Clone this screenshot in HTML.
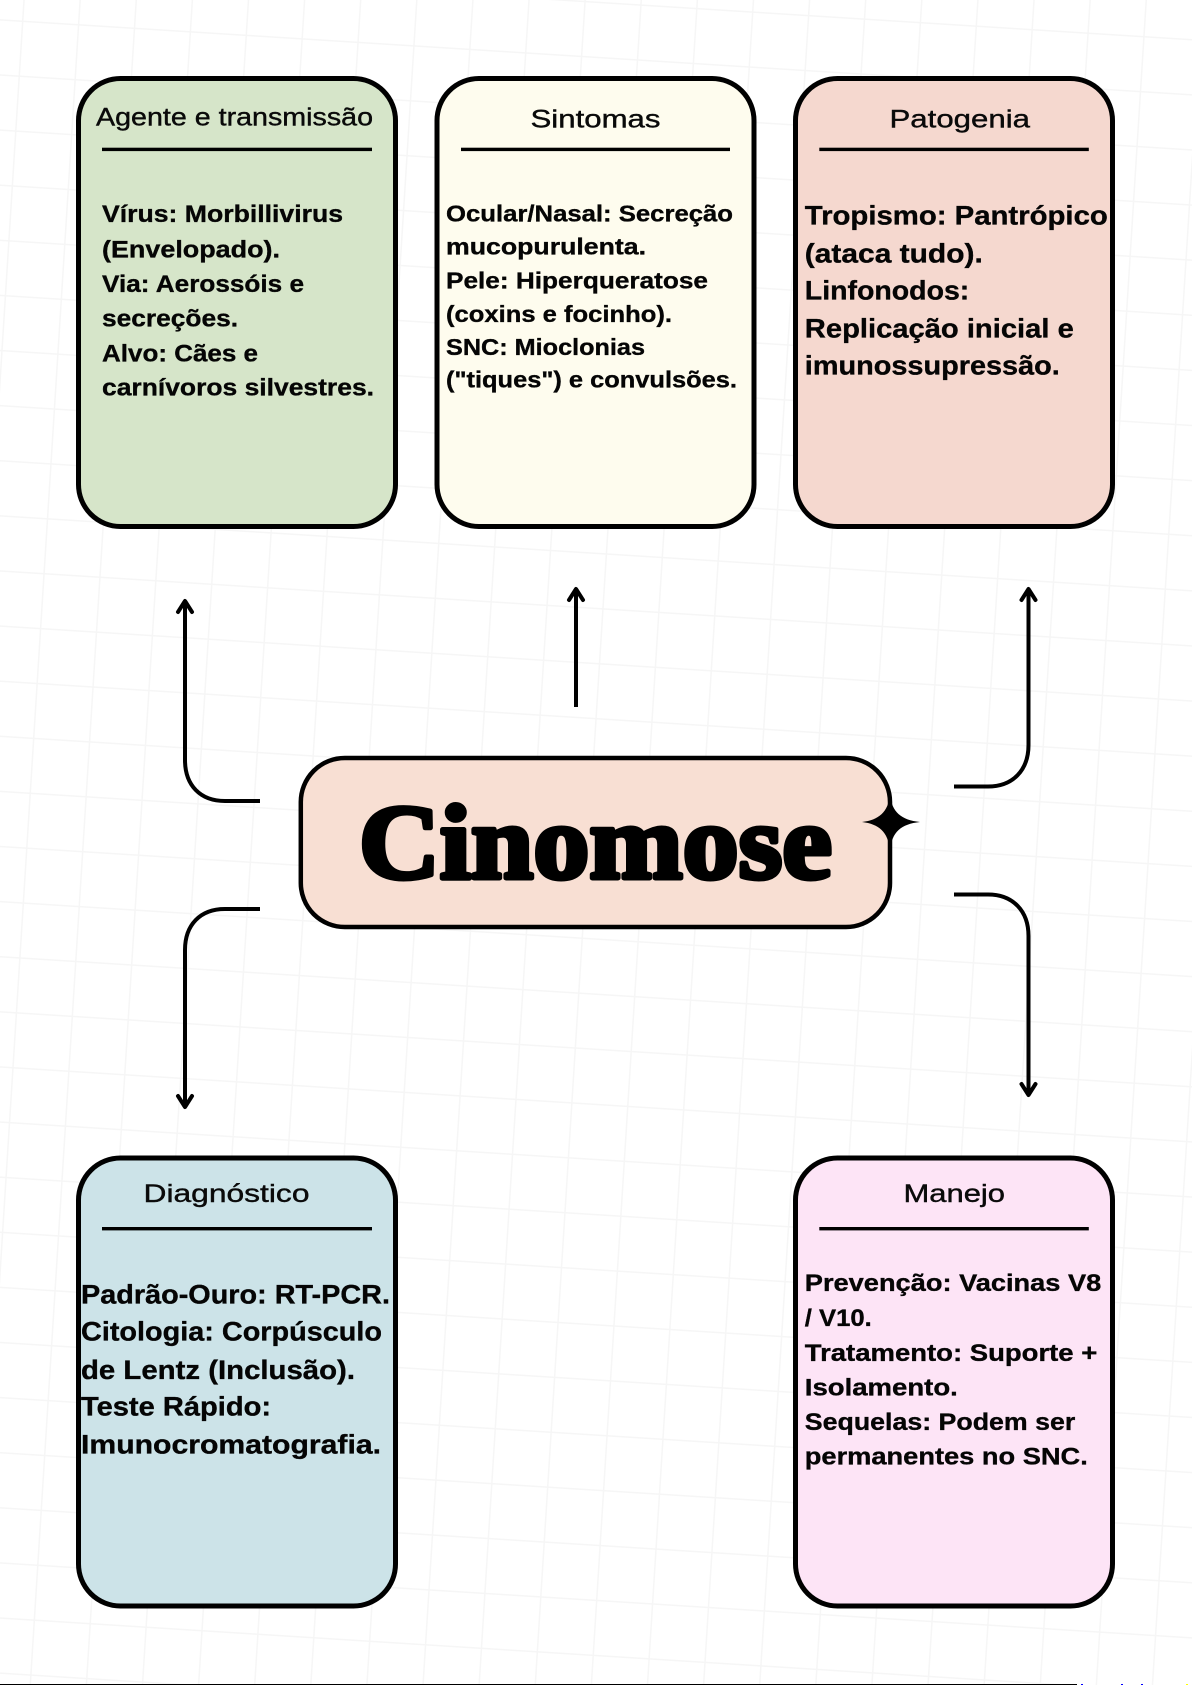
<!DOCTYPE html>
<html lang="pt">
<head>
<meta charset="utf-8">
<title>Cinomose</title>
<style>
html,body{margin:0;padding:0;background:#fff;width:1192px;height:1685px;overflow:hidden}
svg{display:block;width:1192px;height:1685px;overflow:hidden}
.t{font-family:"Liberation Sans",sans-serif;font-size:25px;fill:#0a0a0a;stroke:#0a0a0a;stroke-width:.4px}
.b{font-family:"Liberation Sans",sans-serif;font-weight:700;fill:#050505;stroke:#050505;stroke-width:.35px}
.s24{font-size:24.5px}.s23{font-size:23.5px}.s26{font-size:26.5px}
.a{fill:none;stroke:#000;stroke-width:4;stroke-linejoin:round;stroke-linecap:round}
</style>
</head>
<body>
<svg xmlns="http://www.w3.org/2000/svg" width="1192" height="1685" viewBox="0 0 1192 1685">
<defs>
<pattern id="g" width="56" height="55" patternUnits="userSpaceOnUse" patternTransform="translate(22 20.5) rotate(3.6)">
<rect x="0" y="0" width="56" height="1.5" fill="#f6f6f6"/>
<rect x="0" y="0" width="1.5" height="55" fill="#f6f6f6"/>
</pattern>
</defs>
<rect width="1192" height="1685" fill="#fff"/>
<rect width="1192" height="1685" fill="url(#g)"/>

<!-- Cards -->
<rect x="78.5" y="78.5" width="317" height="448" rx="42" fill="#d6e5c9" stroke="#000" stroke-width="5"/>
<rect x="437" y="78.5" width="317" height="448" rx="42" fill="#fefcee" stroke="#000" stroke-width="5"/>
<rect x="795.5" y="78.5" width="317" height="448" rx="42" fill="#f5d8cf" stroke="#000" stroke-width="5"/>
<rect x="78.5" y="1158" width="317" height="448" rx="42" fill="#cce3e8" stroke="#000" stroke-width="5"/>
<rect x="795.5" y="1158" width="317" height="448" rx="42" fill="#fde4f6" stroke="#000" stroke-width="5"/>

<!-- Rules -->
<rect x="102" y="147.7" width="270" height="3.4" fill="#000"/>
<rect x="461" y="147.7" width="269" height="3.4" fill="#000"/>
<rect x="819.3" y="147.7" width="269.5" height="3.4" fill="#000"/>
<rect x="102" y="1227" width="270" height="3.4" fill="#000"/>
<rect x="819.3" y="1227" width="269.5" height="3.4" fill="#000"/>

<!-- Titles -->
<text class="t" x="96" y="125.7" textLength="277" lengthAdjust="spacingAndGlyphs">Agente e transmissão</text>
<text class="t" x="530.5" y="127.5" textLength="130" lengthAdjust="spacingAndGlyphs">Sintomas</text>
<text class="t" x="889.5" y="127.5" textLength="140.5" lengthAdjust="spacingAndGlyphs">Patogenia</text>
<text class="t" x="143.5" y="1202" textLength="166" lengthAdjust="spacingAndGlyphs">Diagnóstico</text>
<text class="t" x="903.5" y="1202" textLength="101.5" lengthAdjust="spacingAndGlyphs">Manejo</text>

<!-- Card 1 -->
<g class="b s24">
<text x="102" y="222" textLength="241" lengthAdjust="spacingAndGlyphs">Vírus: Morbillivirus</text>
<text x="102" y="257.5" textLength="178" lengthAdjust="spacingAndGlyphs">(Envelopado).</text>
<text x="102" y="292" textLength="202" lengthAdjust="spacingAndGlyphs">Via: Aerossóis e</text>
<text x="102" y="326.5" textLength="136" lengthAdjust="spacingAndGlyphs">secreções.</text>
<text x="102" y="361.5" textLength="156" lengthAdjust="spacingAndGlyphs">Alvo: Cães e</text>
<text x="102" y="395.7" textLength="272" lengthAdjust="spacingAndGlyphs">carnívoros silvestres.</text>
</g>

<!-- Card 2 -->
<g class="b s23">
<text x="446" y="221.4" textLength="287" lengthAdjust="spacingAndGlyphs">Ocular/Nasal: Secreção</text>
<text x="446" y="254.3" textLength="200" lengthAdjust="spacingAndGlyphs">mucopurulenta.</text>
<text x="446" y="288.6" textLength="262" lengthAdjust="spacingAndGlyphs">Pele: Hiperqueratose</text>
<text x="446" y="322" textLength="226" lengthAdjust="spacingAndGlyphs">(coxins e focinho).</text>
<text x="446" y="355" textLength="199" lengthAdjust="spacingAndGlyphs">SNC: Mioclonias</text>
<text x="446" y="387.5" textLength="291" lengthAdjust="spacingAndGlyphs">("tiques") e convulsões.</text>
</g>

<!-- Card 3 -->
<g class="b s26">
<text x="804.8" y="224.3" textLength="303" lengthAdjust="spacingAndGlyphs">Tropismo: Pantrópico</text>
<text x="804.8" y="262.5" textLength="178" lengthAdjust="spacingAndGlyphs">(ataca tudo).</text>
<text x="804.8" y="299.3" textLength="164.5" lengthAdjust="spacingAndGlyphs">Linfonodos:</text>
<text x="804.8" y="337.5" textLength="269" lengthAdjust="spacingAndGlyphs">Replicação inicial e</text>
<text x="804.8" y="374.3" textLength="255" lengthAdjust="spacingAndGlyphs">imunossupressão.</text>
</g>

<!-- Card 4 -->
<g class="b s26">
<text x="81" y="1303.5" textLength="309" lengthAdjust="spacingAndGlyphs">Padrão-Ouro: RT-PCR.</text>
<text x="81" y="1340.6" textLength="301" lengthAdjust="spacingAndGlyphs">Citologia: Corpúsculo</text>
<text x="81" y="1378.9" textLength="274" lengthAdjust="spacingAndGlyphs">de Lentz (Inclusão).</text>
<text x="81" y="1415.7" textLength="190" lengthAdjust="spacingAndGlyphs">Teste Rápido:</text>
<text x="81" y="1453.5" textLength="300" lengthAdjust="spacingAndGlyphs">Imunocromatografia.</text>
</g>

<!-- Card 5 -->
<g class="b s24">
<text x="804.8" y="1291" textLength="296.5" lengthAdjust="spacingAndGlyphs">Prevenção: Vacinas V8</text>
<text x="804.8" y="1325.8" textLength="67" lengthAdjust="spacingAndGlyphs">/ V10.</text>
<text x="804.8" y="1361" textLength="292.5" lengthAdjust="spacingAndGlyphs">Tratamento: Suporte +</text>
<text x="804.8" y="1395.5" textLength="153" lengthAdjust="spacingAndGlyphs">Isolamento.</text>
<text x="804.8" y="1430" textLength="270.5" lengthAdjust="spacingAndGlyphs">Sequelas: Podem ser</text>
<text x="804.8" y="1464.5" textLength="283" lengthAdjust="spacingAndGlyphs">permanentes no SNC.</text>
</g>

<!-- Central box -->
<rect x="300.8" y="758" width="589.2" height="169" rx="44" fill="#f8dfd3" stroke="#000" stroke-width="4.5"/>
<text x="359" y="878" font-family="'Liberation Serif',serif" font-weight="700" font-size="106" fill="#000" stroke="#000" stroke-width="5" stroke-linejoin="round" textLength="473" lengthAdjust="spacingAndGlyphs">Cinomose</text>
<path d="M890 795 C892 812 901 820 920 822 C901 824 892 832 890 850 C888 832 879 824 862 822 C879 820 888 812 890 795Z" fill="#000"/>

<!-- Connectors -->
<g class="a">
<path stroke-linecap="butt" d="M260 801H225C200 801 185 785 185 760V602"/>
<path d="M178 612L185 601L192 612"/>
<path stroke-linecap="butt" d="M576 707V590"/>
<path d="M569 600L576 589L583 600"/>
<path stroke-linecap="butt" d="M954 786.5H988C1013 786.5 1028.5 770 1028.5 745V590"/>
<path d="M1021.5 600L1028.5 589L1035.5 600"/>
<path stroke-linecap="butt" d="M260 909H225C200 909 185 925 185 950V1105"/>
<path d="M178 1096L185 1107L192 1096"/>
<path stroke-linecap="butt" d="M954 894.5H988C1013 894.5 1028.5 911 1028.5 936V1093"/>
<path d="M1021.5 1084L1028.5 1095L1035.5 1084"/>
</g>

<!-- Bottom edge -->
<rect x="0" y="1684" width="1077" height="1" fill="#000"/>
<rect x="1081" y="1684" width="2" height="1" fill="#00f"/>
<rect x="1121" y="1684" width="2" height="1" fill="#00f"/>
<rect x="1141" y="1684" width="2" height="1" fill="#00f"/>
<rect x="1186" y="1684" width="2" height="1" fill="#ff0"/>
</svg>
</body>
</html>
